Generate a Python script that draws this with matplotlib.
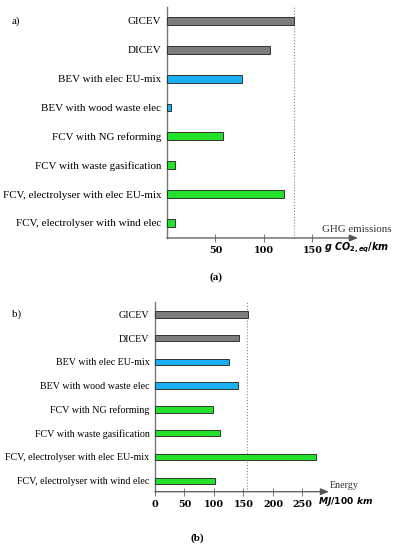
import matplotlib
matplotlib.use("Agg")
import matplotlib.pyplot as plt

categories = [
    "GICEV",
    "DICEV",
    "BEV with elec EU-mix",
    "BEV with wood waste elec",
    "FCV with NG reforming",
    "FCV with waste gasification",
    "FCV, electrolyser with elec EU-mix",
    "FCV, electrolyser with wind elec",
]
ghg_values = [131, 106.5, 77, 4.5, 57.5, 8.5, 121, 8.5]
ghg_ref = 131
energy_values = [158, 142, 125, 141, 99, 110.5, 273, 101]
energy_ref = 156
ghg_ticks = [50, 100, 150]
energy_ticks = [0, 50, 100, 150, 200, 250]

gray = "#7d7d7d"
blue = "#19b1f4"
green = "#22e22c"
colors = [gray, gray, blue, blue, green, green, green, green]
edge = "#333333"
axcol = "#777777"

plt.rcParams["mathtext.fontset"] = "custom"
plt.rcParams["mathtext.it"] = "DejaVu Sans:italic:bold"
plt.rcParams["mathtext.rm"] = "DejaVu Sans:bold"
plt.rcParams["mathtext.bf"] = "DejaVu Sans:bold"

serif = "Liberation Serif"
W, H = 398, 550
fig = plt.figure(figsize=(W / 100, H / 100), dpi=100)


def px(x, y):
    return x / W, 1 - y / H


def make_panel(rect, values, ref, xmax, ticks, ylim, lab_size, bar_h):
    ax = fig.add_axes(rect)
    ax.barh(range(len(categories)), values, height=bar_h, color=colors,
            edgecolor=edge, linewidth=0.7, zorder=3)
    ax.set_xlim(0, xmax)
    ax.set_ylim(*ylim)
    ax.set_yticks(range(len(categories)))
    ax.set_yticklabels(categories, fontfamily=serif, fontsize=lab_size)
    ax.tick_params(axis="y", length=0, pad=4)
    ax.set_xticks(ticks)
    ax.set_xticklabels([str(t) for t in ticks], fontfamily="DejaVu Serif",
                       fontweight="bold", fontsize=6.9)
    ax.tick_params(axis="x", direction="inout", length=6, width=0.7,
                   color=axcol, pad=3)
    for s in ["top", "right", "bottom"]:
        ax.spines[s].set_visible(False)
    ax.spines["left"].set_color(axcol)
    ax.spines["left"].set_linewidth(1.0)
    ax.axvline(ref, color="#888888", linestyle=":", linewidth=0.8, zorder=1)
    ax.annotate("", xy=(1.0, 0), xytext=(0, 0), xycoords="axes fraction",
                textcoords="axes fraction",
                arrowprops=dict(arrowstyle="-|>,head_length=0.5,head_width=0.2",
                                color="#555555", lw=0.9, shrinkA=0, shrinkB=0))
    return ax


# Panel a
l, b = px(167, 238)
_, t = px(167, 7)
r, _ = px(358, 0)
make_panel([l, b, r - l, t - b], ghg_values, ghg_ref, 197, ghg_ticks,
           (7.52, -0.48), 7.9, 0.27)

# Panel b
l, b = px(155, 491.7)
_, t = px(155, 302)
r, _ = px(329, 0)
make_panel([l, b, r - l, t - b], energy_values, energy_ref, 295, energy_ticks,
           (7.46, -0.52), 7.2, 0.27)

# Texts
fig.text(*px(12, 21), "a)", fontfamily=serif, fontsize=8, va="center", ha="left")
fig.text(*px(12, 314), "b)", fontfamily=serif, fontsize=8, va="center", ha="left")
fig.text(*px(216, 277), "(a)", fontfamily=serif, fontsize=8, fontweight="bold",
         va="center", ha="center")
fig.text(*px(197, 538), "(b)", fontfamily=serif, fontsize=8, fontweight="bold",
         va="center", ha="center")
fig.text(*px(322, 230), "GHG emissions", fontfamily=serif, fontsize=7.8,
         va="center", ha="left", color="#333333")
fig.text(*px(324, 248), r"$g\ CO_{2,eq}/km$", fontsize=6.9,
         va="center", ha="left")
fig.text(*px(330, 485), "Energy", fontfamily=serif, fontsize=7.2,
         va="center", ha="left", color="#333333")
fig.text(*px(318, 501), r"$MJ/100\ km$", fontsize=6.6,
         va="center", ha="left")

fig.savefig("out.png", dpi=100)
